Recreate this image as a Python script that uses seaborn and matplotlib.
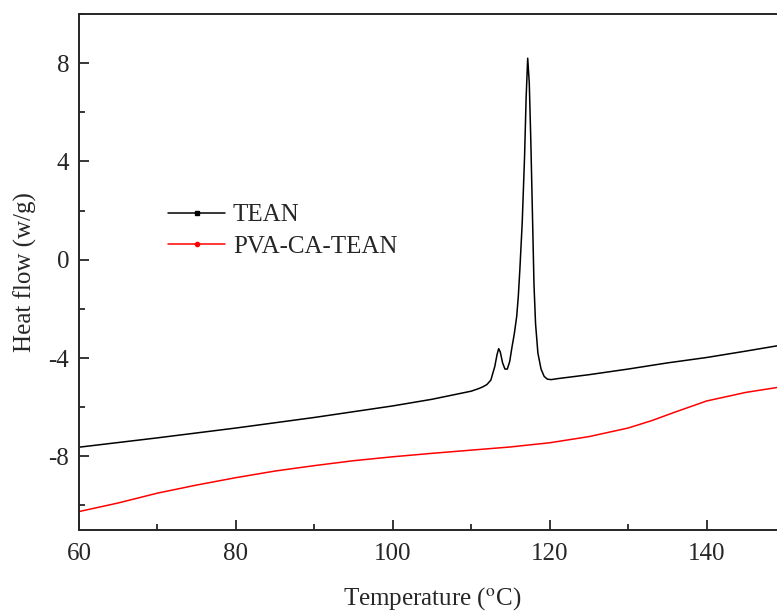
from matplotlib import pyplot as plt
from matplotlib.lines import Line2D
from matplotlib.ticker import MultipleLocator
import pandas as pd
import numpy as np
import seaborn as sns

# values
tean_t = [60, 70, 80, 90, 100, 105, 110, 111, 111.5, 112, 112.5, 113, 113.3, 113.5, 113.7, 114.0,
          114.3, 114.6, 114.9, 115.2, 115.5, 115.8, 116.0, 116.2, 116.5, 116.8, 117.0, 117.2, 117.4,
          117.6, 117.85, 118.0, 118.2, 118.5, 118.9, 119.3, 119.7, 120.2, 121,
          125, 130, 135, 140, 145, 150]
tean_h = [-7.63, -7.25, -6.85, -6.42, -5.95, -5.68, -5.35, -5.24, -5.17, -5.08, -4.9, -4.35, -3.85,
          -3.62, -3.75, -4.2, -4.45, -4.45, -4.15, -3.55, -3.0, -2.3, -1.5, -0.4, 1.5, 4.2, 6.6, 8.2,
          7.2, 4.8, 1.2, -1.0, -2.6, -3.8, -4.45, -4.75, -4.86, -4.88, -4.84,
          -4.68, -4.45, -4.2, -3.98, -3.72, -3.45]

pva_t = [60, 65, 70, 75, 80, 85, 90, 95, 100, 105, 110, 115, 120, 125, 130, 133, 136, 140, 145, 150]
pva_h = [-10.25, -9.9, -9.5, -9.17, -8.87, -8.6, -8.38, -8.18, -8.02, -7.88, -7.75, -7.62, -7.45,
         -7.2, -6.85, -6.55, -6.2, -5.75, -5.4, -5.15]

labels = ["TEAN", "PVA-CA-TEAN"]

df = pd.concat([
    pd.DataFrame({"t": tean_t, "h": tean_h, "s": labels[0]}),
    pd.DataFrame({"t": pva_t, "h": pva_h, "s": labels[1]}),
])

sns.set_style("ticks")
plt.rcParams['font.family'] = ['Liberation Serif', 'DejaVu Serif']
plt.rcParams['mathtext.fontset'] = 'stix'
plt.rcParams['axes.unicode_minus'] = False

fig = plt.figure(figsize=(7.77, 6.11), dpi=100)
ax = fig.add_axes([79 / 777, 1 - 530 / 611, 706 / 777, 516 / 611])

sns.lineplot(data=df, x="t", y="h", hue="s", palette=["black", "red"], linewidth=1.1,
             sort=False, estimator=None, legend=False, ax=ax)

ax.set_xlim(60, 150)
ax.set_ylim(-11, 10)
ax.xaxis.set_major_locator(MultipleLocator(20))
ax.xaxis.set_minor_locator(MultipleLocator(10))
ax.yaxis.set_minor_locator(MultipleLocator(2))
ax.set_yticks([-8, -4, 0, 4, 8])
ax.tick_params(which='both', direction='in', top=False, right=False, labelsize=18, width=1.3)
ax.tick_params(which='major', length=7)
ax.tick_params(which='minor', length=4)
ax.tick_params(axis='x', pad=9)
ax.tick_params(axis='y', pad=7)
for sp in ax.spines.values():
    sp.set_linewidth(1.4)

ax.set_xlabel("Temperature ($^{\\mathrm{o}}$C)", fontsize=18, labelpad=15)
ax.set_ylabel("Heat flow (w/g)", fontsize=18, labelpad=8)

handles = [Line2D([], [], color="black", lw=1.1, marker="s", markersize=3),
           Line2D([], [], color="red", lw=1.1, marker="o", markersize=3)]
ax.legend(handles, labels, loc="upper left", bbox_to_anchor=(0.126, 0.632), frameon=False,
          fontsize=18, handlelength=2.3, handletextpad=0.3, labelspacing=0.36,
          borderaxespad=0, borderpad=0)

plt.savefig("out.png", dpi=100)
